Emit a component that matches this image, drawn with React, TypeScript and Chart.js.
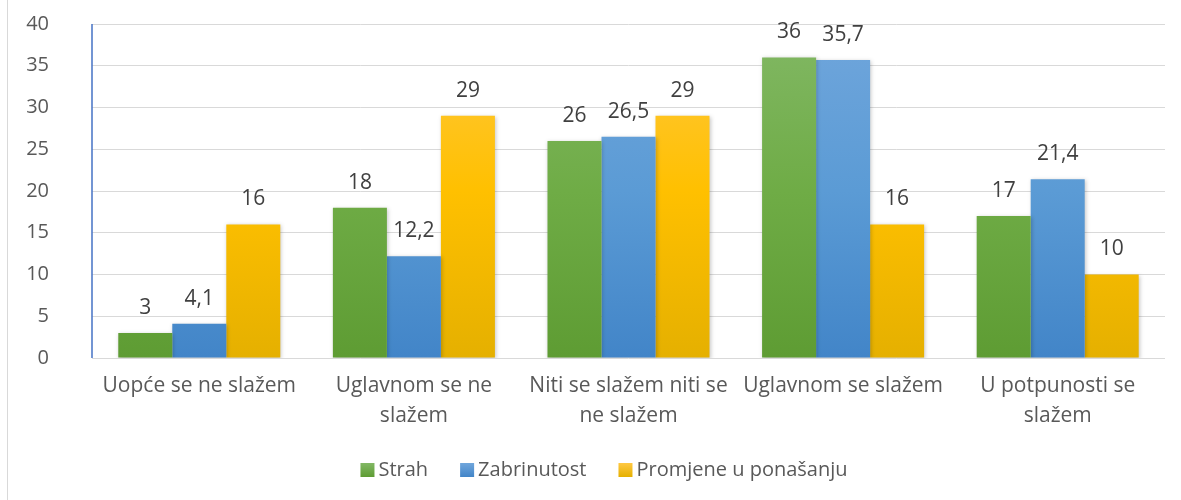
import React, { useEffect, useRef } from "react";
import { Chart, registerables } from "chart.js";

Chart.register(...registerables);

const categories: string[][] = [
  ["Uopće se ne slažem"],
  ["Uglavnom se ne", "slažem"],
  ["Niti se slažem niti se", "ne slažem"],
  ["Uglavnom se slažem"],
  ["U potpunosti se", "slažem"],
];
const seriesNames = ["Strah", "Zabrinutost", "Promjene u ponašanju"];
const strah = [3, 18, 26, 36, 17];
const zabrinutost = [4.1, 12.2, 26.5, 35.7, 21.4];
const promjene = [16, 29, 29, 16, 10];
const yTicks = [0, 5, 10, 15, 20, 25, 30, 35, 40];

const gradients = [
  ["#82b865", "#6fac46", "#5e9c33"],
  ["#70a6dc", "#5b9bd5", "#4285c8"],
  ["#ffc843", "#ffc000", "#e5b000"],
];
const solid = ["#70ad47", "#5b9bd5", "#ffc000"];

const FONT = "'Open Sans', 'Liberation Sans', sans-serif";
const TEXT = "#595959";

function makeGrad(idx: number) {
  return (ctx: any) => {
    const chart = ctx.chart;
    const area = chart.chartArea;
    if (!area) return solid[idx];
    const g = chart.ctx.createLinearGradient(0, area.top, 0, area.bottom);
    const c = gradients[idx];
    g.addColorStop(0, c[0]);
    g.addColorStop(0.5, c[1]);
    g.addColorStop(1, c[2]);
    return g;
  };
}

const valueLabels = {
  id: "valueLabels",
  afterDatasetsDraw(chart: any) {
    const ctx = chart.ctx;
    ctx.save();
    ctx.font = `21px ${FONT}`;
    ctx.fillStyle = "#404040";
    ctx.textAlign = "center";
    ctx.textBaseline = "middle";
    chart.data.datasets.forEach((ds: any, i: number) => {
      const meta = chart.getDatasetMeta(i);
      meta.data.forEach((bar: any, j: number) => {
        const v = ds.data[j];
        ctx.fillText(String(v).replace(".", ","), bar.x, bar.y - 25);
      });
    });
    ctx.restore();
  },
};

const frame = {
  id: "frame",
  beforeDraw(chart: any) {
    const ctx = chart.ctx;
    ctx.save();
    ctx.fillStyle = "#ffffff";
    ctx.fillRect(0, 0, chart.width, chart.height);
    ctx.strokeStyle = "#d9d9d9";
    ctx.lineWidth = 1;
    ctx.beginPath();
    ctx.moveTo(7.5, 0);
    ctx.lineTo(7.5, chart.height);
    ctx.stroke();
    ctx.restore();
  },
  beforeDatasetsDraw(chart: any) {
    const ctx = chart.ctx;
    ctx.save();
    ctx.shadowColor = "rgba(0,0,0,0.22)";
    ctx.shadowBlur = 4;
    ctx.shadowOffsetX = 1;
    ctx.shadowOffsetY = 1;
  },
  afterDatasetsDraw(chart: any) {
    const ctx = chart.ctx;
    ctx.restore();
    const a = chart.chartArea;
    const y = chart.scales.y;
    ctx.save();
    ctx.strokeStyle = "#4472c4";
    ctx.lineWidth = 1.5;
    ctx.beginPath();
    ctx.moveTo(a.left, a.top);
    ctx.lineTo(a.left, a.bottom);
    ctx.stroke();
    // y tick labels
    ctx.font = `20px ${FONT}`;
    ctx.fillStyle = TEXT;
    ctx.textAlign = "right";
    ctx.textBaseline = "middle";
    yTicks.forEach((v) => {
      ctx.fillText(String(v), 49, y.getPixelForValue(v));
    });
    // legend
    ctx.font = `20px ${FONT}`;
    const box = 14;
    const gapBox = 4;
    const gapItem = 32;
    const widths = seriesNames.map((n) => ctx.measureText(n).width);
    const total =
      widths.reduce((s, w) => s + box + gapBox + w, 0) + gapItem * (seriesNames.length - 1);
    let x = 604 - total / 2;
    const ly = 470;
    ctx.textAlign = "left";
    seriesNames.forEach((n, i) => {
      const g = ctx.createLinearGradient(0, ly - box / 2, 0, ly + box / 2);
      g.addColorStop(0, gradients[i][0]);
      g.addColorStop(1, gradients[i][2]);
      ctx.fillStyle = g;
      ctx.fillRect(x, ly - box / 2, box, box);
      ctx.fillStyle = TEXT;
      ctx.fillText(n, x + box + gapBox, ly);
      x += box + gapBox + widths[i] + gapItem;
    });
    ctx.restore();
  },
};

export default function App() {
  const ref = useRef<HTMLCanvasElement>(null);
  useEffect(() => {
    document.body.style.margin = "0";
    const datasets = [strah, zabrinutost, promjene].map((d, i) => ({
      label: seriesNames[i],
      data: d,
      backgroundColor: makeGrad(i),
      borderWidth: 0,
      categoryPercentage: 0.755,
      barPercentage: 1,
    }));
    const chart = new Chart(ref.current!, {
      type: "bar",
      data: { labels: categories, datasets },
      options: {
        animation: false,
        responsive: false,
        maintainAspectRatio: false,
        layout: { padding: { top: 24, right: 16, left: 92, bottom: 56 } },
        plugins: {
          legend: { display: false },
          tooltip: { enabled: false },
        },
        scales: {
          x: {
            grid: { display: false, drawTicks: false },
            border: { display: false },
            ticks: {
              color: TEXT,
              font: { family: FONT, size: 21, lineHeight: 30 / 21 },
              padding: 13,
              maxRotation: 0,
              autoSkip: false,
            },
          },
          y: {
            min: 0,
            max: 40,
            afterBuildTicks: (axis: any) => {
              axis.ticks = yTicks.map((v) => ({ value: v }));
            },
            afterFit: (axis: any) => {
              axis.width = 0;
            },
            grid: { color: "#d9d9d9", lineWidth: 1, drawTicks: false },
            border: { display: false },
            ticks: { display: false },
          },
        },
      },
      plugins: [frame, valueLabels],
    } as any);
    return () => chart.destroy();
  }, []);
  return <canvas ref={ref} width={1181} height={500} style={{ display: "block" }} />;
}
